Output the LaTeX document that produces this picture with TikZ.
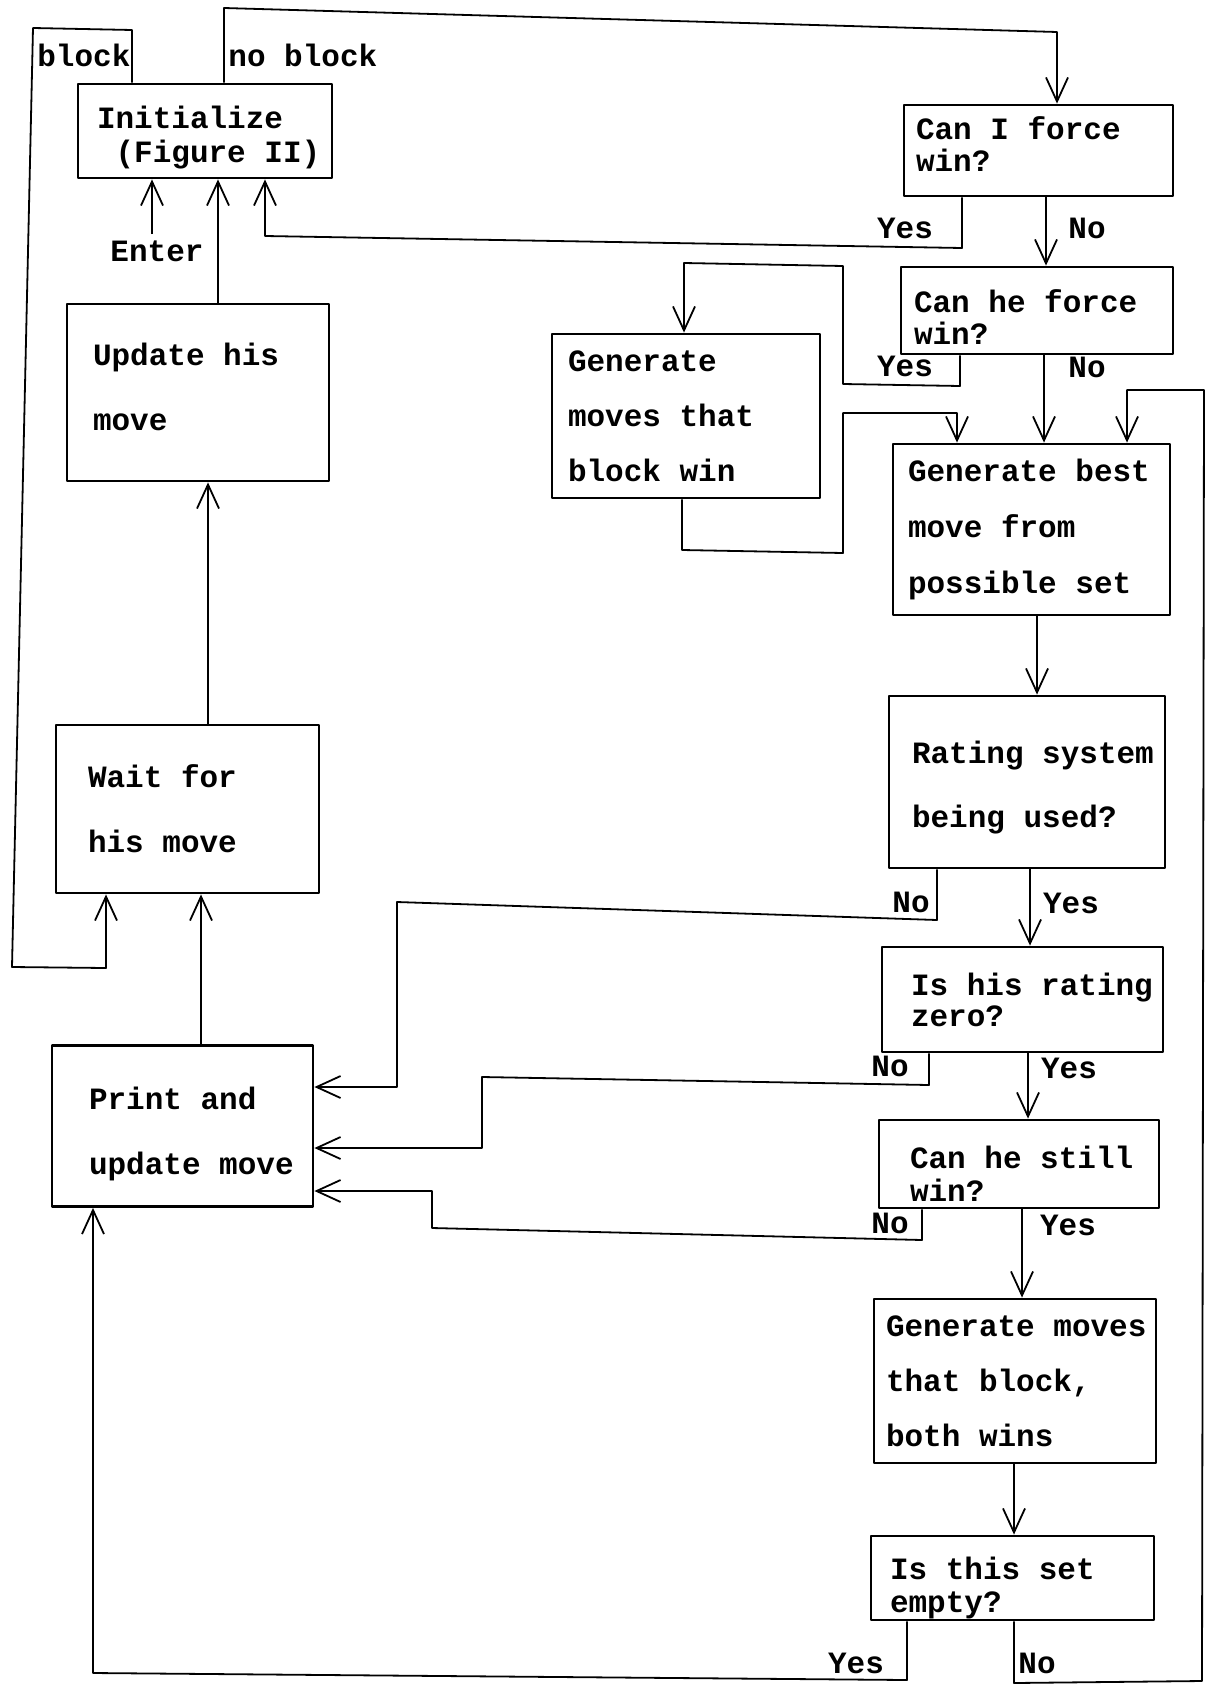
\documentclass[tikz,border=0pt]{standalone}
\usepackage{fontspec}
\setmainfont{Liberation Mono}
\usetikzlibrary{arrows.meta}
\newcommand\bxl[1]{\mbox{#1}}
\newcommand\sk{\hspace*{9.3pt}}
\newcommand\dn[2]{\raisebox{0pt}[\dimexpr\height+#1\relax]{#2}}
\newcommand\up[2]{\raisebox{0pt}[\height][\dimexpr\depth+#1\relax]{#2}}
\begin{document}
\begin{tikzpicture}[x=0.5pt,y=-0.5pt,
  line join=round,
  box/.style={draw, line width=1.4pt, align=left, inner ysep=0pt},
  fs/.style={font=\bfseries\fontsize{15.5}{#1}\selectfont},
  arr/.style={line width=0.9pt, -{Straight Barb[length=12pt,width=11pt]}},
  lbl/.style={font=\bfseries\fontsize{15.5}{17}\selectfont, inner sep=0pt}]
\fill[white] (0,0) rectangle (1209,1691);
\useasboundingbox (0,0) rectangle (1209,1691);

% boxes
\node[box, fs=17, minimum width=127pt, minimum height=47pt, inner xsep=9.5pt, text width=108pt] (init) at (205,131) {\dn{7pt}{Initialize}\\\bxl{\sk(Figure\sk II)}};
\node[box, fs=16, minimum width=134.5pt, minimum height=45.5pt, inner xsep=6pt, text width=122.5pt] (canI) at (1038.5,150.5) {\bxl{Can\sk I\sk force}\\\up{6pt}{win?}};
\node[box, fs=16, minimum width=136pt, minimum height=43.5pt, inner xsep=6.5pt, text width=123pt] (canhe) at (1037,310.5) {\dn{7pt}{Can\sk he\sk force}\\\bxl{win?}};
\node[box, fs=27.5, minimum width=134pt, minimum height=82pt, inner xsep=8pt, text width=118pt] (genblock) at (686,416) {\bxl{Generate}\\\bxl{moves\sk that}\\\bxl{block\sk win}};
\node[box, fs=28, minimum width=138.5pt, minimum height=85.5pt, inner xsep=7.5pt, text width=123.5pt] (genbest) at (1031.5,529.5) {\bxl{Generate\sk best}\\\bxl{move\sk from}\\\bxl{possible\sk set}};
\node[box, fs=32.5, minimum width=131pt, minimum height=88.5pt, inner xsep=13pt, text width=105pt] (update) at (198,392.5) {\bxl{Update\sk his}\\\up{6pt}{move}};
\node[box, fs=32, minimum width=138pt, minimum height=86pt, inner xsep=11.5pt, text width=115pt] (rating) at (1027,782) {\dn{6pt}{Rating\sk system}\\\bxl{being\sk used?}};
\node[box, fs=32.5, minimum width=131.5pt, minimum height=84pt, inner xsep=16pt, text width=99.5pt] (wait) at (187.5,809) {\bxl{Wait\sk for}\\\bxl{his\sk move}};
\node[box, fs=15.5, minimum width=140.5pt, minimum height=52.5pt, inner xsep=14.5pt, text width=111.5pt] (zero) at (1022.5,999.5) {\bxl{Is\sk his\sk rating}\\\bxl{zero?}};
\node[box, fs=32.5, minimum width=130.5pt, minimum height=80.5pt, inner xsep=18.5pt, text width=93.5pt] (print) at (182.5,1126) {\dn{8pt}{Print\sk and}\\\bxl{update\sk move}};
\node[box, fs=16.5, minimum width=140pt, minimum height=44pt, inner xsep=15.5pt, text width=109pt] (still) at (1019,1164) {\dn{10pt}{Can\sk he\sk still}\\\bxl{win?}};
\node[box, fs=27.5, minimum width=141pt, minimum height=82pt, inner xsep=6pt, text width=129pt] (both) at (1015,1381) {\bxl{Generate\sk moves}\\\bxl{that\sk block,}\\\bxl{both\sk wins}};
\node[box, fs=16.5, minimum width=141.5pt, minimum height=42pt, inner xsep=9.5pt, text width=122.5pt] (empty) at (1012.5,1578) {\dn{10pt}{Is\sk this\sk set}\\\bxl{empty?}};

% top labels
\node[lbl, anchor=west] (lblock) at (37,55) {block};
\node[lbl, anchor=west] (lnoblock) at (228,55) {no\sk block};

% block / no block
\draw[arr] (init.north -| 132,0) -- (132,30) -- (33,28) -- (12,967) -- (106,968) -- (wait.south -| 106,0);
\draw[arr] (init.north -| 224,0) -- (224,8) -- (1057,32) -- (canI.north -| 1057,0);

% enter
\coordinate (enter) at (152,234);
\draw[arr] (enter) -- (init.south -| enter);
\node[lbl] (lenter) at (157,251) {Enter};

% left column
\draw[arr] (update.north -| 218,0) -- (init.south -| 218,0);
\draw[arr] (wait.north -| 208,0) -- (update.south -| 208,0);
\draw[arr] (print.north -| 201,0) -- (wait.south -| 201,0);

% can I force win
\draw[arr] (canI.south -| 962,0) -- (962,248) -- (265,236) -- (init.south -| 265,0);
\node[lbl] (l1) at (905,228) {Yes};
\draw[arr] (canI.south -| 1046,0) -- (canhe.north -| 1046,0);
\node[lbl] (l2) at (1087,228) {No};

% can he force win
\draw[arr] (canhe.south -| 960,0) -- (960,386) -- (843,384) -- (843,266) -- (684,263) -- (genblock.north -| 684,0);
\node[lbl] (l3) at (905,366) {Yes};
\draw[arr] (canhe.south -| 1044,0) -- (genbest.north -| 1044,0);
\node[lbl] (l4) at (1087,367) {No};

% generate block -> best
\draw[arr] (genblock.south -| 682,0) -- (682,550) -- (843,553) -- (843,413) -- (957,413) -- (genbest.north -| 957,0);

% best -> rating
\draw[arr] (genbest.south -| 1037,0) -- (rating.north -| 1037,0);

% rating
\draw[arr] (rating.south -| 937,0) -- (937,920) -- (397,902) -- (397,1087) -- (print.east |- 0,1087);
\node[lbl] (l5) at (911,902) {No};
\draw[arr] (rating.south -| 1030,0) -- (zero.north -| 1030,0);
\node[lbl] (l6) at (1071,903) {Yes};

% zero
\draw[arr] (zero.south -| 929,0) -- (929,1085) -- (482,1077) -- (482,1148) -- (print.east |- 0,1148);
\node[lbl] (l7) at (890,1066) {No};
\draw[arr] (zero.south -| 1028,0) -- (still.north -| 1028,0);
\node[lbl] (l8) at (1069,1068) {Yes};

% still
\draw[arr] (still.south -| 922,0) -- (922,1240) -- (432,1228) -- (432,1191) -- (print.east |- 0,1191);
\node[lbl] (l9) at (890,1223) {No};
\draw[arr] (still.south -| 1022,0) -- (both.north -| 1022,0);
\node[lbl] (l10) at (1068,1225) {Yes};

% both -> empty
\draw[arr] (both.south -| 1014,0) -- (empty.north -| 1014,0);

% empty
\draw[arr] (empty.south -| 907,0) -- (907,1680) -- (93,1673) -- (print.south -| 93,0);
\node[lbl] (l11) at (856,1663) {Yes};
\draw[arr] (empty.south -| 1014,0) -- (1014,1683) -- (1202,1681) -- (1204,390) -- (1127,390) -- (genbest.north -| 1127,0);
\node[lbl] (l12) at (1037,1663) {No};
\end{tikzpicture}
\end{document}
